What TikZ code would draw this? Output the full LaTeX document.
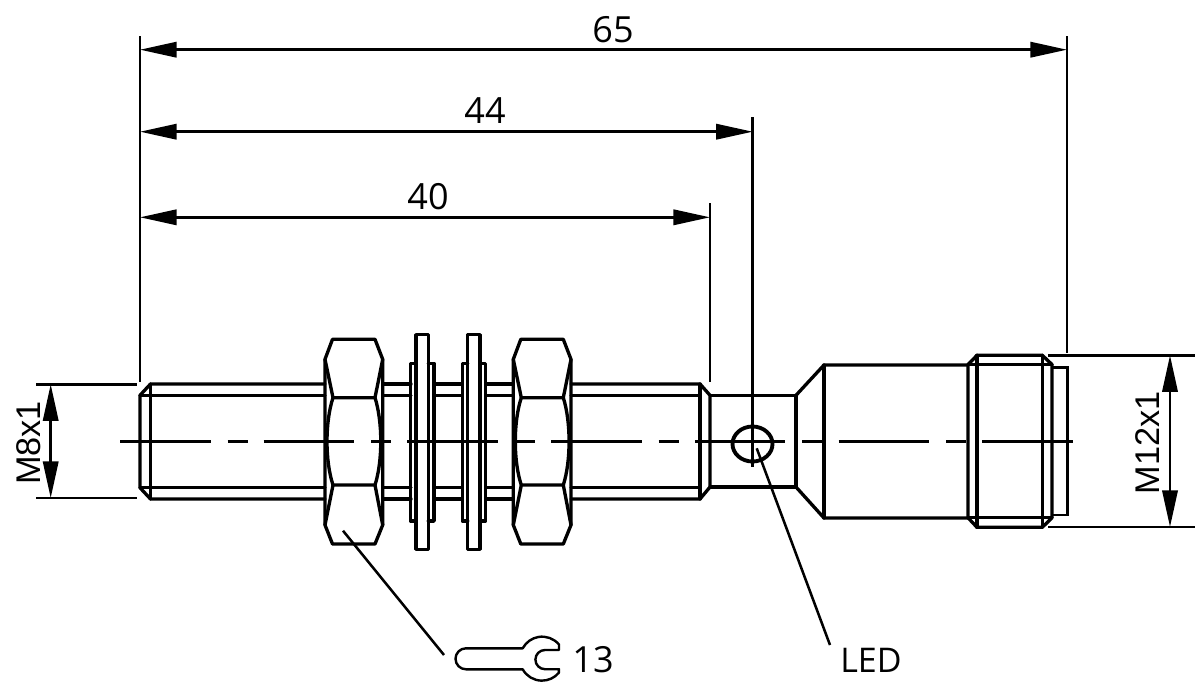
\documentclass[tikz,border=0pt]{standalone}
\usepackage{fontspec}
\setmainfont{Open Sans}
\newfontfamily\arialfont{Liberation Sans}
\usetikzlibrary{arrows.meta}
\tikzset{
  thick line/.style={line width=2.5pt,line join=round,line cap=round},
  thin line/.style={line width=1.9pt,line cap=butt},
  dimline/.style={line width=1.9pt,{Stealth[length=27.5pt,width=11.5pt,inset=0pt]}-{Stealth[length=27.5pt,width=11.5pt,inset=0pt]}},
  label/.style={font=\fontsize{27pt}{28pt}\selectfont,inner sep=0pt,text=black},
  ledlabel/.style={font=\fontsize{25.5pt}{28pt}\selectfont,inner sep=0pt,text=black},
  rotlabel/.style={font=\arialfont\fontsize{25.7pt}{28pt}\selectfont,inner sep=0pt,rotate=90,text=black},
  center line/.style={line width=1.9pt,dash pattern=on 67.9pt off 12.75pt on 15pt off 12.15pt}
}
\newcommand{\nutshape}[1]{%
  \begin{scope}[xshift=#1*0.75pt]
  \draw[thick line] (0,359.3) -- (7.5,339.3) -- (50,339.3) -- (57.7,359.3) -- (57.7,525) -- (50,544) -- (7.5,544) -- (0,525) -- cycle;
  \draw[thick line] (0,359.3) -- (8,397.7) -- (50,397.7) -- (57.7,359.3);
  \draw[thick line] (0,525) -- (8,485) -- (50,485) -- (57.7,525);
  \draw[thick line] (8,397.7) .. controls (0,422) and (0,461) .. (8,485);
  \draw[thick line] (50,397.7) .. controls (57.7,422) and (57.7,461) .. (50,485);
  \end{scope}}
\newcommand{\washer}[1]{%
  \begin{scope}[xshift=#1*0.75pt]
  \draw[thick line] (0,334.7) rectangle (12.3,549.3);
  \draw[thick line] (0,363.3) -- (-5.5,363.3) -- (-5.5,521) -- (0,521);
  \draw[thick line] (12.3,363.3) -- (18,363.3) -- (18,521) -- (12.3,521);
  \end{scope}}
\begin{document}
\begin{tikzpicture}[x=0.75pt,y=-0.75pt]
\useasboundingbox (0,0) rectangle (1200,697);
% coordinates for dimensions
\coordinate (L65a) at (140,49.7); \coordinate (L65b) at (1067,49.7);
\coordinate (L44a) at (140,131.7); \coordinate (L44b) at (752.7,131.7);
\coordinate (L40a) at (140,217.3); \coordinate (L40b) at (710,217.3);
\coordinate (M8a) at (50.7,384.3); \coordinate (M8b) at (50.7,498);
\coordinate (M12a) at (1170,355.3); \coordinate (M12b) at (1170,527);
% extension lines
\draw[thin line] (140,36) -- (140,382);
\draw[thin line] (1067,36) -- (1067,353);
\draw[thin line] (752.7,117) -- (752.7,467);
\draw[thin line] (710,203) -- (710,382);
\draw[thin line] (36,384.3) -- (137,384.3);
\draw[thin line] (36,498) -- (137,498);
\draw[thin line] (1048,355.3) -- (1195,355.3);
\draw[thin line] (1048,527) -- (1195,527);
% dimensions
\draw[dimline] (L65a) -- (L65b);
\draw[dimline] (L44a) -- (L44b);
\draw[dimline] (L40a) -- (L40b);
\draw[dimline] (M8a) -- (M8b);
\draw[dimline] (M12a) -- (M12b);
\node[label] (t65) at (613,30) {65};
\node[label] (t44) at (485,111) {44};
\node[label] (t40) at (428,197) {40};
\node[rotlabel] (tm8) at (29,443) {M8x1};
\node[rotlabel] (tm12) at (1148,443) {M12x1};
% center line
\draw[center line] (120,441.7) -- (1073,441.7);
% threaded shaft
\draw[thick line] (325,384) -- (150.5,384) -- (140,395.3) -- (140,487.7) -- (150.5,499) -- (325,499);
\draw[thick line] (150.5,384) -- (150.5,499);
\draw[thick line] (140,395.3) -- (325,395.3);
\draw[thick line] (140,487.7) -- (325,487.7);
\draw[thick line] (383,384) -- (411,384) (383,395.3) -- (411,395.3) (383,487.7) -- (411,487.7) (383,499) -- (411,499);
\draw[thick line] (434.3,384) -- (462,384) (434.3,395.3) -- (462,395.3) (434.3,487.7) -- (462,487.7) (434.3,499) -- (462,499);
\draw[thick line] (485.7,384) -- (513.3,384) (485.7,395.3) -- (513.3,395.3) (485.7,487.7) -- (513.3,487.7) (485.7,499) -- (513.3,499);
\draw[thick line] (571,384) -- (700,384) -- (710,395.3) -- (710,487) -- (700,499) -- (571,499);
\draw[thick line] (571,395.3) -- (700,395.3) (571,487.7) -- (700,487.7);
\draw[thick line] (700,384) -- (700,499);
% nuts and washers
\nutshape{325}
\nutshape{513.3}
\washer{416}
\washer{467.7}
% neck
\draw[thick line] (710,395.3) -- (796,395.3) -- (796,487) -- (710,487);
\draw[thick line] (796,395.3) -- (824,365) -- (968,365);
\draw[thick line] (796,487) -- (824,518) -- (968,518);
\draw[thick line] (824,365) -- (824,518);
% LED
\draw[line width=2.9pt] (752.5,444) ellipse (20 and 17.5);
% collar
\draw[thick line] (968,364.5) -- (977,355.3) -- (1042.3,355.3) -- (1052,364.5) -- (1052,517.7) -- (1042.3,527.3) -- (977,527.3) -- (968,517.7) -- cycle;
\draw[thick line] (977,355.3) -- (977,527.3) (1042.3,355.3) -- (1042.3,527.3);
\draw[thick line] (968,364.5) -- (1052,364.5) (968,517.7) -- (1052,517.7);
\draw[thin line] (1052,367.7) -- (1067.3,367.7) -- (1067.3,515) -- (1052,515);
% leaders
\coordinate (nutp) at (343,530.7); \coordinate (nutq) at (444,655);
\coordinate (ledp) at (756.7,448.3); \coordinate (ledq) at (830,645);
\draw[thin line] (nutp) -- (nutq);
\draw[thin line] (ledp) -- (ledq);
% wrench
\draw[line width=1.8pt,line join=round] (522.7,648.3) -- (466,648.3) arc (270:90:10.5) -- (522.7,669.3)
  arc (151:40:22) -- (559,669.2) -- (545,669.2) arc (90:270:9.6) -- (559,650) -- (559,644.5) arc (320:209:22) -- cycle;
\node[label] (t13) at (593,660) {13};
\node[ledlabel] (tled) at (871,660) {LED};
\end{tikzpicture}
\end{document}
